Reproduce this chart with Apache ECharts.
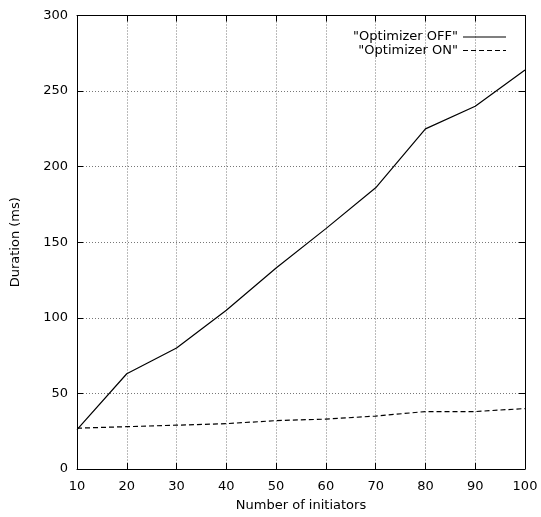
<!DOCTYPE html>
<html>
<head>
<meta charset="utf-8">
<script src="https://cdn.jsdelivr.net/npm/echarts@6/dist/echarts.min.js"></script>
<style>
  html, body { margin: 0; padding: 0; background: #fff; }
  #chart { width: 541px; height: 517px; }
</style>
</head>
<body>
<div id="chart"></div>
<script>
// x values (number of initiators)
var initiators = [10, 20, 30, 40, 50, 60, 70, 80, 90, 100];
// durations in ms
var optimizerOff = [26, 63, 80, 105, 133, 159, 186, 225, 240, 264];
var optimizerOn = [27, 28, 29, 30, 32, 33, 35, 38, 38, 40];
var seriesNames = ['"Optimizer OFF"', '"Optimizer ON"'];

function pairs(xs, ys) {
    var out = [];
    for (var i = 0; i < xs.length; i++) {
        out.push([xs[i], ys[i]]);
    }
    return out;
}

var font = 'DejaVu Sans';
// legend line samples: solid and dashed
var solidIcon = 'path://M0,0L43,0L43,1L0,1Z';
var dashIcon = 'path://M0,0L5,0L5,1L0,1Z M8,0L13,0L13,1L8,1Z M16,0L21,0L21,1L16,1Z M24,0L29,0L29,1L24,1Z M32,0L37,0L37,1L32,1Z M40,0L43,0L43,1L40,1Z';

var Chart = echarts.init(document.getElementById('chart'));

// mirrored axis (gnuplot style box with tics on all sides)
function mirrorAxis(pos, min, max, interval) {
    return {
        type: 'value',
        position: pos,
        min: min, max: max, interval: interval,
        axisLine: { show: true, onZero: false, lineStyle: { color: '#000', width: 1 } },
        axisTick: { show: true, inside: true, length: 6, lineStyle: { color: '#000' } },
        axisLabel: { show: false },
        splitLine: { show: false }
    };
}

function legendAt(name, icon, top) {
    return {
        data: [{ name: name, icon: icon, itemStyle: { color: '#000', borderWidth: 0 } }],
        right: 35, top: top, padding: 0,
        align: 'right',
        itemWidth: 43, itemHeight: 1,
        textStyle: { fontFamily: font, fontSize: 13, color: '#000' }
    };
}

Chart.setOption({
    animation: false,
    grid: { left: 77, right: 16, top: 15.5, bottom: 46 },
    legend: [
        legendAt(seriesNames[0], solidIcon, 30.5),
        legendAt(seriesNames[1], dashIcon, 44)
    ],
    xAxis: [
        {
            type: 'value',
            min: 10, max: 100, interval: 10,
            name: 'Number of initiators',
            nameLocation: 'middle',
            nameGap: 30,
            nameTextStyle: { fontFamily: font, fontSize: 13, color: '#000' },
            axisLine: { show: true, onZero: false, lineStyle: { color: '#000', width: 1 } },
            axisTick: { show: true, inside: true, length: 6, lineStyle: { color: '#000' } },
            axisLabel: { fontFamily: font, fontSize: 13, color: '#000', margin: 11 },
            splitLine: { show: true, lineStyle: { color: '#777', type: [1, 2], width: 1 } }
        },
        mirrorAxis('top', 10, 100, 10)
    ],
    yAxis: [
        {
            type: 'value',
            min: 0, max: 300, interval: 50,
            name: 'Duration (ms)',
            nameLocation: 'middle',
            nameGap: 55,
            nameTextStyle: { fontFamily: font, fontSize: 13, color: '#000' },
            axisLine: { show: true, onZero: false, lineStyle: { color: '#000', width: 1 } },
            axisTick: { show: true, inside: true, length: 6, lineStyle: { color: '#000' } },
            axisLabel: { fontFamily: font, fontSize: 13, color: '#000', margin: 9 },
            splitLine: { show: true, lineStyle: { color: '#777', type: [1, 2], width: 1 } }
        },
        mirrorAxis('right', 0, 300, 50)
    ],
    series: [
        {
            name: seriesNames[0],
            type: 'line',
            symbol: 'none',
            lineStyle: { color: '#000', width: 1.2 },
            itemStyle: { color: '#000' },
            data: pairs(initiators, optimizerOff)
        },
        {
            name: seriesNames[1],
            type: 'line',
            symbol: 'none',
            lineStyle: { color: '#000', width: 1.2, type: [5, 3] },
            itemStyle: { color: '#000' },
            data: pairs(initiators, optimizerOn)
        }
    ]
});
</script>
</body>
</html>
